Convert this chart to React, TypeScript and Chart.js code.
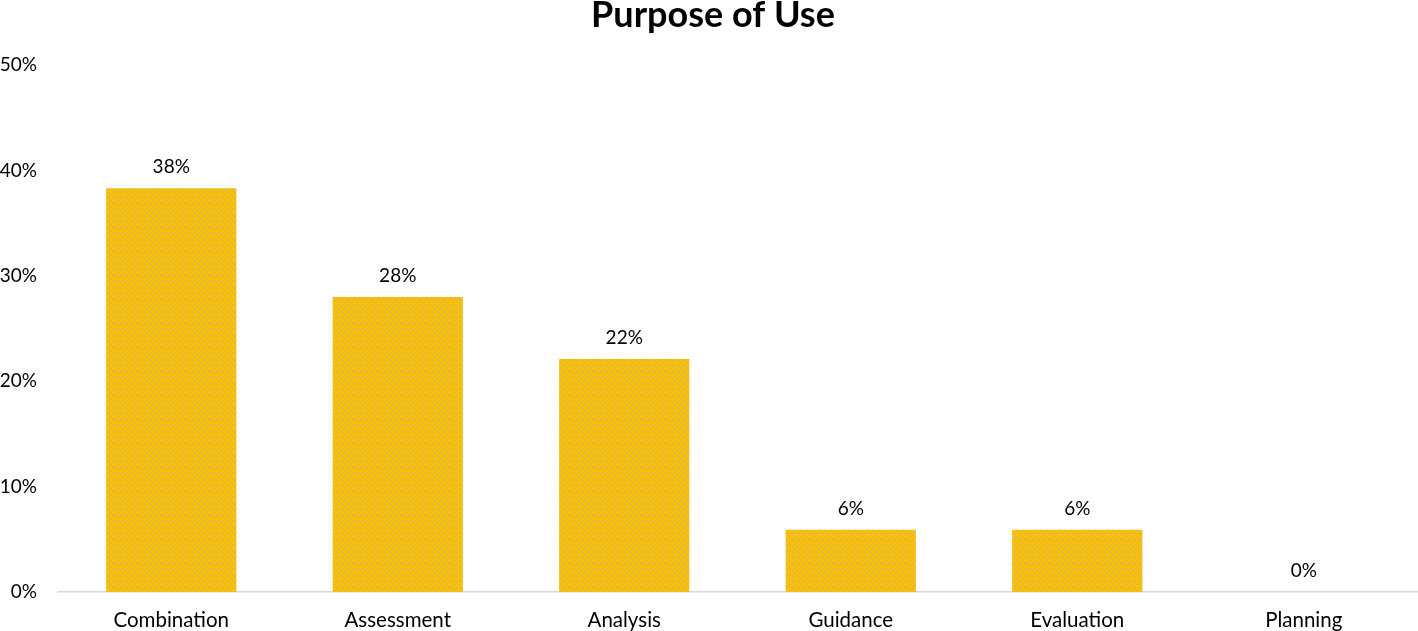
import React, { useEffect, useRef } from "react";
import { Chart, registerables } from "chart.js";

Chart.register(...registerables);

const categories = ["Combination", "Assessment", "Analysis", "Guidance", "Evaluation", "Planning"];
const values = [0.383, 0.28, 0.221, 0.059, 0.059, 0];
const valueLabels = ["38%", "28%", "22%", "6%", "6%", "0%"];
const yTicks = [0, 0.1, 0.2, 0.3, 0.4, 0.5];
const titleText = "Purpose of Use";

const FONT = "Lato, 'Open Sans', sans-serif";

function makePattern(): CanvasPattern | string {
  const c = document.createElement("canvas");
  c.width = 6;
  c.height = 6;
  const g = c.getContext("2d");
  if (!g) return "#FFC000";
  g.fillStyle = "#FFC000";
  g.fillRect(0, 0, 6, 6);
  g.fillStyle = "#a9aab0";
  g.fillRect(0, 0, 1, 1);
  g.fillRect(3, 2, 1, 1);
  g.fillRect(1, 4, 1, 1);
  g.fillRect(4, 5, 1, 1);
  const p = g.createPattern(c, "repeat");
  return p || "#FFC000";
}

export default function App() {
  const ref = useRef<HTMLCanvasElement | null>(null);
  useEffect(() => {
    if (!ref.current) return;
    const pattern = makePattern();
    const labelPlugin = {
      id: "valLabels",
      afterDatasetsDraw(chart: any) {
        const ctx = chart.ctx;
        const meta = chart.getDatasetMeta(0);
        ctx.save();
        ctx.fillStyle = "#000";
        ctx.font = `19px ${FONT}`;
        ctx.textAlign = "center";
        ctx.textBaseline = "middle";
        meta.data.forEach((bar: any, i: number) => {
          ctx.fillText(valueLabels[i], bar.x, bar.y - 21);
        });
        ctx.restore();
      },
    };
    const titlePlugin = {
      id: "customTitle",
      afterDraw(chart: any) {
        const ctx = chart.ctx;
        ctx.save();
        ctx.fillStyle = "#000";
        ctx.font = `bold 36px ${FONT}`;
        ctx.textAlign = "center";
        ctx.textBaseline = "middle";
        ctx.fillText(titleText, 713, 15);
        ctx.restore();
      },
    };
    const chart = new Chart(ref.current, {
      type: "bar",
      data: {
        labels: categories,
        datasets: [
          {
            data: values,
            backgroundColor: pattern as any,
            categoryPercentage: 1,
            barPercentage: 0.575,
          },
        ],
      },
      options: {
        animation: false,
        responsive: false,
        maintainAspectRatio: false,
        layout: { padding: { top: 65, left: 0, right: 1, bottom: 0 } },
        plugins: {
          legend: { display: false },
          title: { display: false },
          tooltip: { enabled: false },
        },
        scales: {
          x: {
            grid: { display: false, drawTicks: false },
            border: { display: true, color: "#d9d9d9", width: 1.5 },
            ticks: {
              color: "#000",
              font: { family: FONT, size: 20.5 },
              padding: 16,
              maxRotation: 0,
              autoSkip: false,
            },
            afterFit: (s: any) => {
              s.height = 39;
            },
          },
          y: {
            min: 0,
            max: 0.5,
            grid: { display: false, drawTicks: false },
            border: { display: false },
            afterBuildTicks: (s: any) => {
              s.ticks = yTicks.map((v) => ({ value: v }));
            },
            ticks: {
              color: "#000",
              font: { family: FONT, size: 19 },
              padding: 21,
              callback: (v: any) => Math.round(Number(v) * 100) + "%",
            },
            afterFit: (s: any) => {
              s.width = 58;
            },
          },
        },
      },
      plugins: [labelPlugin, titlePlugin],
    });
    return () => chart.destroy();
  }, []);
  return (
    <div style={{ position: "absolute", left: 0, top: 0, width: 1418, height: 631, background: "#fff" }}>
      <canvas ref={ref} width={1418} height={631} style={{ display: "block" }} />
    </div>
  );
}
